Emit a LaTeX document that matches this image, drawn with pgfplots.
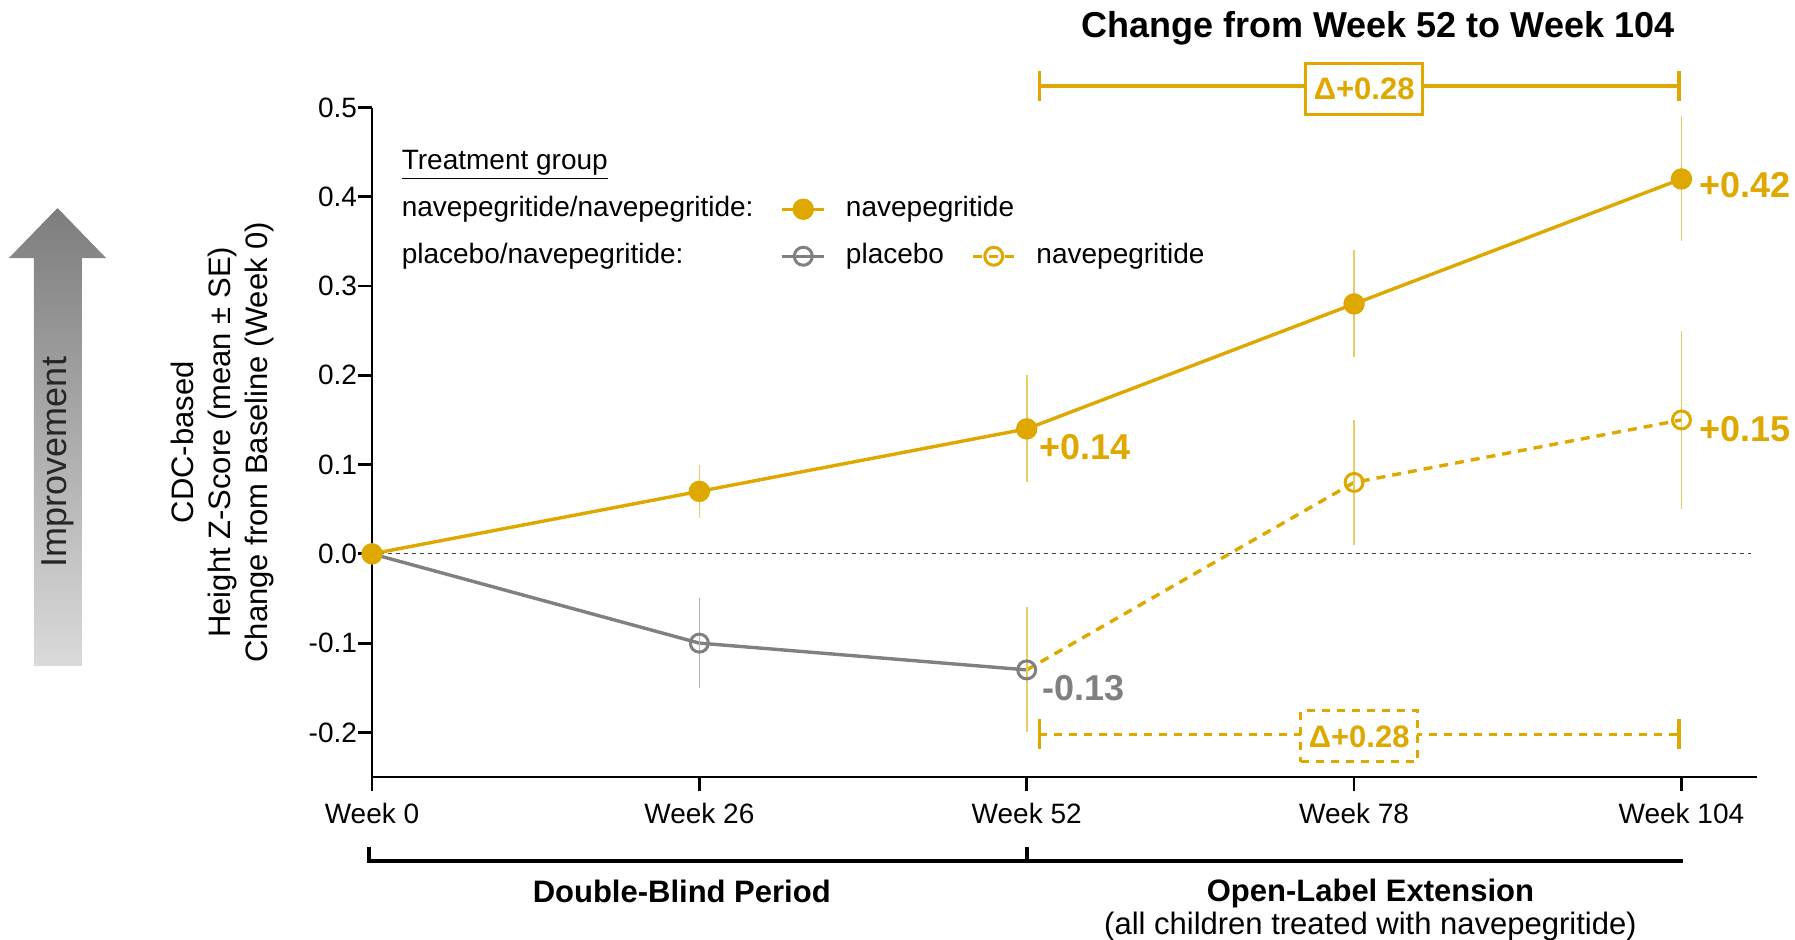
\documentclass[border=0pt]{standalone}
\usepackage{fontspec}
\setmainfont{Liberation Sans}
\usepackage{pgfplots}
\pgfplotsset{compat=1.18}
\definecolor{gold}{RGB}{222,168,0}
\definecolor{pgray}{RGB}{128,128,128}
\definecolor{arrtop}{RGB}{125,125,125}
\definecolor{arrbot}{RGB}{218,218,218}
\begin{document}
\begin{tikzpicture}[x=1pt,y=1pt]
\useasboundingbox (-186,-81) rectangle (711.5,388.5);
\shade[top color=arrtop, bottom color=arrbot]
  (-169,55.5) -- (-145,55.5) -- (-145,259.5) -- (-133,259.5) -- (-157.25,284.5) -- (-181.5,259.5) -- (-169,259.5) -- cycle;
\node[rotate=90, font=\fontsize{18}{20}\selectfont, text=black!85] at (-157.25,157.5) {Improvement};
\begin{axis}[
  at={(0,0)}, anchor=south west, scale only axis,
  width=692.5pt, height=334.75pt,
  xmin=0, xmax=110, ymin=-0.25, ymax=0.5,
  axis lines=left, axis line style={-, line width=1.4pt},
  tick align=outside, major tick length=7pt,
  tick style={line width=1.4pt, black},
  xtick={0,26,52,78,104},
  xticklabels={Week 0,Week 26,Week 52,Week 78,Week 104},
  ytick={-0.2,-0.1,0,0.1,0.2,0.3,0.4,0.5},
  yticklabels={-0.2,-0.1,0.0,0.1,0.2,0.3,0.4,0.5},
  tick label style={font=\fontsize{14}{16}\selectfont},
  xticklabel style={yshift=-2.5pt},
  yticklabel style={xshift=3pt},
  clip=false,
  ylabel={CDC-based\\Height Z-Score (mean ± SE)\\Change from Baseline (Week 0)},
  ylabel style={at={(axis description cs:-0.1076,0.5)}, anchor=center, align=center, font=\fontsize{15.5}{18.5}\selectfont},
  legend columns=3,
  legend cell align=left,
  legend image code/.code={\draw[mark repeat=2, mark phase=2] plot coordinates {(0pt,0pt)(10.5pt,0pt)(21pt,0pt)};},
  legend style={draw=none, fill=none, at={(axis description cs:0,1)}, anchor=north west, xshift=4.9pt, yshift=-20.6pt,
    inner sep=0pt, outer sep=0pt, row sep=10pt,
    nodes={inner sep=0pt, text height=10.5pt, text depth=3pt, font=\fontsize{14}{16}\selectfont},
    /tikz/every odd column/.style={column sep=10pt},
    /tikz/every even column/.style={column sep=13.5pt}},
]
% zero line
\addplot[black!75, line width=0.6pt, dash pattern=on 2pt off 2pt, forget plot] coordinates {(0,0)(109.5,0)};
% placebo (double-blind)
\addplot[pgray, line width=1.7pt, mark=o, mark size=4.5pt, mark options={solid, line width=1.5pt}, mark indices={2,3}, forget plot,
  error bars/.cd, y dir=both, y explicit, error mark=none, error bar style={pgray!60, line width=0.8pt}]
  coordinates {(0,0) +- (0,0) (26,-0.10) +- (0,0.05) (52,-0.13) +- (0,0.07)};
% placebo -> navepegritide (open label)
\addplot[gold, line width=1.7pt, dash pattern=on 4.5pt off 3.5pt, mark=o, mark size=4.5pt, mark options={solid, line width=1.5pt}, mark indices={2,3}, forget plot,
  error bars/.cd, y dir=both, y explicit, error mark=none, error bar style={solid, gold!60, line width=0.8pt}]
  coordinates {(52,-0.13) +- (0,0.07) (78,0.08) +- (0,0.07) (104,0.15) +- (0,0.10)};
% navepegritide/navepegritide
\addplot[gold, line width=1.7pt, mark=*, mark size=4.5pt, mark options={solid}, forget plot,
  error bars/.cd, y dir=both, y explicit, error mark=none, error bar style={gold!60, line width=0.8pt}]
  coordinates {(0,0) +- (0,0) (26,0.07) +- (0,0.03) (52,0.14) +- (0,0.06) (78,0.28) +- (0,0.06) (104,0.42) +- (0,0.07)};
% legend
\addlegendimage{empty legend}\addlegendentry{\underline{Treatment group}}
\addlegendimage{empty legend}\addlegendentry{}
\addlegendimage{empty legend}\addlegendentry{}
\addlegendimage{empty legend}\addlegendentry{navepegritide/navepegritide:}
\addlegendimage{gold, line width=1.7pt, mark=*, mark size=4.5pt}\addlegendentry{\rlap{navepegritide}\phantom{placebo}}
\addlegendimage{empty legend}\addlegendentry{}
\addlegendimage{empty legend}\addlegendentry{placebo/navepegritide:}
\addlegendimage{pgray, line width=1.7pt, mark=o, mark size=4.5pt, mark options={solid, line width=1.5pt}}\addlegendentry{placebo}
\addlegendimage{gold, line width=1.7pt, dash pattern=on 4.5pt off 3.5pt, mark=o, mark size=4.5pt, mark options={solid, line width=1.5pt}}\addlegendentry{navepegritide}
% data labels
\node[anchor=west, inner sep=0pt, text=gold, font=\bfseries\fontsize{18}{20}\selectfont] at (axis cs:53,0.120) {+0.14};
\node[anchor=west, inner sep=0pt, text=pgray, font=\bfseries\fontsize{18}{20}\selectfont] at (axis cs:53.2,-0.150) {-0.13};
\node[anchor=west, inner sep=0pt, text=gold, font=\bfseries\fontsize{18}{20}\selectfont] at (axis cs:105.4,0.413) {+0.42};
\node[anchor=west, inner sep=0pt, text=gold, font=\bfseries\fontsize{18}{20}\selectfont] at (axis cs:105.4,0.140) {+0.15};
% top bracket
\node[font=\bfseries\fontsize{18}{20}\selectfont] at (axis cs:79.9,0.5885) {Change from Week 52 to Week 104};
\draw[gold, line width=1.7pt] (axis cs:53,0.524) -- (axis cs:103.8,0.524);
\draw[gold, line width=1.7pt] (axis cs:53,0.507) -- (axis cs:53,0.541);
\draw[gold, line width=1.7pt] (axis cs:103.8,0.507) -- (axis cs:103.8,0.541);
\node[draw=gold, line width=1.7pt, fill=white, text=gold, font=\bfseries\fontsize{15.5}{17}\selectfont, minimum width=58.5pt, minimum height=25.5pt, inner sep=0pt] at (axis cs:78.8,0.521) {Δ+0.28};
% bottom bracket
\draw[gold, line width=1.5pt, dash pattern=on 4pt off 3.5pt] (axis cs:53,-0.202) -- (axis cs:103.8,-0.202);
\draw[gold, line width=1.7pt] (axis cs:53,-0.219) -- (axis cs:53,-0.185);
\draw[gold, line width=1.7pt] (axis cs:103.8,-0.219) -- (axis cs:103.8,-0.185);
\node[draw=gold, line width=1.5pt, dash pattern=on 4pt off 3.5pt, fill=white, text=gold, font=\bfseries\fontsize{15.5}{17}\selectfont, minimum width=58.25pt, minimum height=25.5pt, inner sep=0pt] at (axis cs:78.4,-0.2045) {Δ+0.28};
% period brackets
\draw[black, line width=2pt] (axis cs:-0.27,-0.328) -- (axis cs:-0.27,-0.344) -- (axis cs:104.1,-0.344);
\draw[black, line width=2pt] (axis cs:52,-0.328) -- (axis cs:52,-0.344);
\node[font=\bfseries\fontsize{15.5}{18}\selectfont] at (axis cs:24.6,-0.378) {Double-Blind Period};
\node[font=\bfseries\fontsize{15.5}{18}\selectfont] at (axis cs:79.3,-0.380) {Open-Label Extension};
\node[font=\fontsize{15.5}{18}\selectfont] at (axis cs:79.3,-0.417) {(all children treated with navepegritide)};
\end{axis}
\end{tikzpicture}
\end{document}
